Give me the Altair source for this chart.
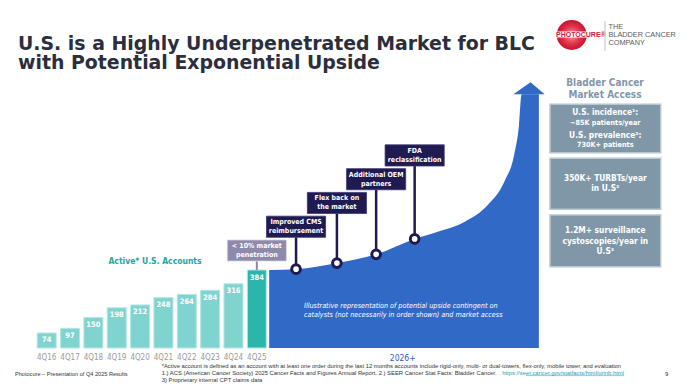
import altair as alt
import pandas as pd

# ---------------- data ----------------
quarters = ["4Q16", "4Q17", "4Q18", "4Q19", "4Q20", "4Q21", "4Q22", "4Q23", "4Q24", "4Q25"]
accounts = [74, 97, 150, 198, 212, 248, 264, 284, 316, 384]

# illustrative upside curve: period index (4Q16 = 0) vs account-equivalent level
upside_period = [9.53, 10.68, 12.43, 14.11, 15.76, 16.78, 17.91, 18.89, 19.60, 20.02, 20.23, 20.34, 21.08]
upside_level = [384, 388, 418, 461, 537, 573, 622, 704, 819, 950, 1098, 1249, 1249]
arrow_period = [19.99, 20.72, 21.33]
arrow_level = [1249, 1308, 1249]

catalysts = ["Improved CMS\nreimbursement", "Flex back on\nthe market",
             "Additional OEM\npartners", "FDA\nreclassification"]
catalyst_period = [10.68, 12.43, 14.11, 15.76]
catalyst_level = [388, 418, 461, 537]

penetration_label = "< 10% market\npenetration"

access_header = "Bladder Cancer\nMarket Access"
access_boxes = [
    ["U.S. incidence¹:", "~85K patients/year", "U.S. prevalence²:", "730K+ patients"],
    ["350K+ TURBTs/year", "in U.S³"],
    ["1.2M+ surveillance", "cystoscopies/year in", "U.S³"],
]

title_lines = ["U.S. is a Highly Underpenetrated Market for BLC",
               "with Potential Exponential Upside"]
footer_left = "Photocure – Presentation of Q4 2025 Results"
footnotes = [
    "*Active account is defined as an account with at least one order during the last 12 months accounts include rigid-only, multi- or dual-towers, flex-only, mobile tower, and evaluation",
    "1.) ACS (American Cancer Society) 2025 Cancer Facts and Figures Annual Report. 2.) SEER Cancer Stat Facts: Bladder Cancer.",
    "3) Proprietary internal CPT claims data",
]
footnote_link = "https://seer.cancer.gov/statfacts/html/urinb.html"
page_number = "9"

# ---------------- styling ----------------
W, H = 674, 376
TITLE_FONT = "DejaVu Sans"
BODY = "DejaVu Sans Condensed, DejaVu Sans"
FOOT = "Liberation Sans"
NAVY = "#1f1a4f"
BLUE = "#3169c6"
TEAL_L = "#80d4d0"
TEAL_D = "#2bb5ab"
PURPLE_GRAY = "#8e8aac"
SLATE = "#7f97a6"

xs = alt.Scale(domain=[-1.443, 26.996], nice=False, zero=False)
ys = alt.Scale(domain=[-177.2, 1673.8], nice=False, zero=False)


def X(f):
    return alt.X(f, type="quantitative", scale=xs, axis=None)


def Y(f):
    return alt.Y(f, type="quantitative", scale=ys, axis=None)


def label(text, x, y, size, color, weight="normal", align="left", font=BODY,
          style="normal", baseline="middle", lh=None):
    kw = dict(align=align, baseline=baseline, fontSize=size, color=color,
              fontWeight=weight, font=font, fontStyle=style, lineBreak="\n")
    if lh:
        kw["lineHeight"] = lh
    return alt.Chart(pd.DataFrame({"t": [text]})).mark_text(**kw).encode(
        x=alt.value(x), y=alt.value(y), text="t:N")


def box(x1, x2, y1, y2, fill, stroke=None, sw=0):
    kw = dict(fill=fill)
    if stroke:
        kw.update(stroke=stroke, strokeWidth=sw)
    return alt.Chart(pd.DataFrame({"a": [0]})).mark_rect(**kw).encode(
        x=alt.value(x1), x2=alt.value(x2), y=alt.value(y1), y2=alt.value(y2))


layers = []

# ---- bars ----
bars_df = pd.DataFrame({"quarter": quarters, "accounts": accounts, "period": range(len(quarters))})
bars_df["fill"] = [TEAL_D if q == quarters[-1] else TEAL_L for q in quarters]
layers.append(alt.Chart(bars_df).mark_bar(size=19, stroke="#b4e6e3", strokeWidth=1).encode(
    x=X("period"), y=Y("accounts"), fill=alt.Fill("fill:N", scale=None)))
layers.append(alt.Chart(bars_df).mark_text(dy=7.5, baseline="middle", color="white", fontSize=7.5,
                                           fontWeight="bold", font=BODY).encode(
    x=X("period"), y=Y("accounts"), text="accounts:Q"))
layers.append(alt.Chart(bars_df).mark_text(baseline="middle", color="#9b9b9b", fontSize=8,
                                           font=BODY).encode(
    x=X("period"), y=alt.value(350), text="quarter:N"))

# ---- upside curve ----
up_df = pd.DataFrame({"period": upside_period, "level": upside_level})
layers.append(alt.Chart(up_df).mark_area(color=BLUE, interpolate="monotone", opacity=1).encode(
    x=X("period"), y=Y("level"), y2=alt.datum(0)))
arr_df = pd.DataFrame({"period": arrow_period, "level": arrow_level})
layers.append(alt.Chart(arr_df).mark_area(color=BLUE, opacity=1).encode(
    x=X("period"), y=Y("level"), y2=alt.datum(arrow_level[0])))

# ---- catalyst call-outs ----
STEP, BASE, BOX_H, HALF_W = 117, 428, 104, 1.266
cat_df = pd.DataFrame({"label": catalysts, "period": catalyst_period, "level": catalyst_level,
                       "step": range(1, len(catalysts) + 1)})
pen_df = pd.DataFrame({"label": [penetration_label], "period": [len(quarters) - 1],
                       "level": [accounts[-1]], "step": [0]})
for df, col, stem_w in ((pen_df, PURPLE_GRAY, 2), (cat_df, NAVY, 2.5)):
    df["bottom"] = BASE + STEP * df["step"]
    df["top"] = df["bottom"] + BOX_H
    df["mid"] = (df["bottom"] + df["top"]) / 2
    df["x1"] = df["period"] - HALF_W
    df["x2"] = df["period"] + HALF_W
    layers.append(alt.Chart(df).mark_rule(color=col, strokeWidth=stem_w).encode(
        x=X("period"), y=Y("level"), y2=alt.Y2("bottom")))
    layers.append(alt.Chart(df).mark_rect(fill=col, stroke="#d9d9e3" if col == PURPLE_GRAY else "#3a3570",
                                          strokeWidth=0.8).encode(
        x=X("x1"), x2=alt.X2("x2"), y=Y("bottom"), y2=alt.Y2("top")))
    layers.append(alt.Chart(df).mark_text(color="white", fontSize=7, fontWeight="bold", font=BODY,
                                          lineBreak="\n", lineHeight=9, baseline="middle", dy=-4.5).encode(
        x=X("period"), y=Y("mid"), text="label:N"))
layers.append(alt.Chart(cat_df).mark_point(shape="circle", filled=True, fill="white", stroke=NAVY,
                                           strokeWidth=3, size=75, opacity=1).encode(
    x=X("period"), y=Y("level")))

# ---- texts on chart ----
layers.append(label("Active* U.S. Accounts", 147, 253, 8.5, "#21a79f", "bold", "center"))
layers.append(label("Illustrative representation of potential upside contingent on\n"
                    "catalysts (not necessarily in order shown) and market access",
                    296, 298, 7.2, "white", "normal", "left", style="italic", baseline="middle", lh=9.3))
layers.append(label("2026+", 394.7, 349.7, 8.5, "#2f62c7", "normal", "center"))

# ---- title ----
layers.append(label(title_lines[0], 10, 41.7, 18.9, "#2a2e3d", "bold", font=TITLE_FONT, baseline="alphabetic"))
layers.append(label(title_lines[1], 10, 61.3, 18.9, "#2a2e3d", "bold", font=TITLE_FONT, baseline="alphabetic"))

# ---- logo ----
logo = alt.Chart(pd.DataFrame({"a": [0]})).mark_point(
    shape="circle", filled=True, opacity=1, size=900,
    fill=alt.RadialGradient(gradient="radial", stops=[
        alt.GradientStop(offset=0, color="#f4a3ad"), alt.GradientStop(offset=0.55, color="#e2394f"),
        alt.GradientStop(offset=1, color="#c8102e")])).encode(x=alt.value(563.7), y=alt.value(27))
layers.append(logo)
layers.append(box(547, 591, 23.5, 29.5, "white"))
layers.append(label("PHOTOCURE®", 548, 26.5, 7, "#d4213d", "bold", font="Liberation Sans"))
layers.append(alt.Chart(pd.DataFrame({"a": [0]})).mark_rule(color="#b0b0b0", strokeWidth=0.8).encode(
    x=alt.value(597), y=alt.value(13), y2=alt.value(43)))
for i, t in enumerate(["THE", "BLADDER CANCER", "COMPANY"]):
    layers.append(label(t, 600.5, 18.7 + 8.3 * i, 7.3, "#5c5c5c", "normal", font="Liberation Sans"))

# ---- market access panel ----
layers.append(label(access_header, 597, 75, 10, "#8396a9", "bold", "center", lh=12))
box_pos = [(96.3, 144.7), (150.3, 201.3), (207, 258.7)]
line_y = [[105.3, 115.3, 128, 137], [171, 181.3], [223, 233.7, 243.7]]
line_sz = [[8.3, 7.2, 8.3, 7.2], [8.3, 8.3], [8.3, 8.3, 8.3]]
for (y1, y2), lines, ly, lsz in zip(box_pos, access_boxes, line_y, line_sz):
    layers.append(box(542, 652.7, y1, y2, SLATE, "#b8c6cf", 1.5))
    for t, yy, sz in zip(lines, ly, lsz):
        layers.append(label(t, 597.3, yy, sz, "white", "bold", "center"))

# ---- footer ----
layers.append(label(footer_left, 7, 365.5, 5.6, "#333333", font=FOOT))
for i, t in enumerate(footnotes):
    layers.append(label(t, 153.7, 358 + 7 * i, 5.85, "#333333", font=FOOT))
layers.append(label(footnote_link, 616, 365, 5.85, "#1a9fb8", "normal", "right", font=FOOT))
layers.append(alt.Chart(pd.DataFrame({"a": [0]})).mark_rule(color="#1a9fb8", strokeWidth=0.5).encode(
    x=alt.value(518), x2=alt.value(616), y=alt.value(367.6)))
layers.append(label(page_number, 657, 365.5, 6, "#333333", font=FOOT))

chart = alt.layer(*layers).properties(
    width=W, height=H, padding=0, autosize=alt.AutoSizeParams(type="none"), background="white"
).configure_view(stroke=None)

chart.save("out.html", embed_options={"renderer": "svg", "actions": False})
